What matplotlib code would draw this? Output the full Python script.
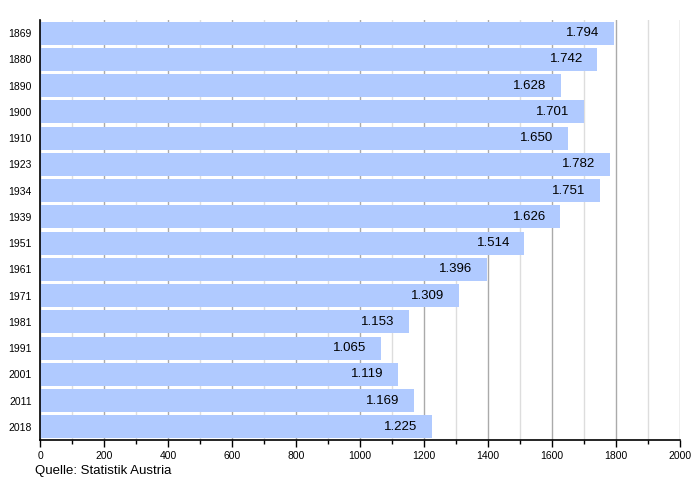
import matplotlib
matplotlib.use("Agg")
import matplotlib.pyplot as plt
from matplotlib.ticker import MultipleLocator

years = ["1869", "1880", "1890", "1900", "1910", "1923", "1934", "1939",
         "1951", "1961", "1971", "1981", "1991", "2001", "2011", "2018"]
population = [1794, 1742, 1628, 1701, 1650, 1782, 1751, 1626,
              1514, 1396, 1309, 1153, 1065, 1119, 1169, 1225]
value_labels = ["1.794", "1.742", "1.628", "1.701", "1.650", "1.782", "1.751", "1.626",
                "1.514", "1.396", "1.309", "1.153", "1.065", "1.119", "1.169", "1.225"]

plt.rcParams['font.family'] = ['Liberation Sans', 'DejaVu Sans']

fig = plt.figure(figsize=(7, 4.8), dpi=100)
ax = fig.add_axes([40 / 700, 1 - 440 / 480, 640 / 700, 420 / 480])

pos = list(range(len(years)))
ax.barh(pos, population, height=0.88, color="#b0caff", zorder=2)

# value labels sit inside the bar end
for y, v, lab in zip(pos, population, value_labels):
    ax.annotate(lab, (v, y), xytext=(-10.5, 0), textcoords="offset points",
                ha="right", va="center", fontsize=9.5, color="black", zorder=3)

ax.set_xlim(0, 2000)
ax.set_ylim(len(years) - 0.5, -0.5)
ax.set_yticks(pos)
ax.set_yticklabels(years, fontsize=7.5)
ax.tick_params(axis="y", length=0, pad=6)

ax.xaxis.set_major_locator(MultipleLocator(200))
ax.xaxis.set_minor_locator(MultipleLocator(100))
ax.tick_params(axis="x", which="major", length=5, width=1, labelsize=7.5, pad=3)
ax.tick_params(axis="x", which="minor", length=3, width=1)
ax.grid(axis="x", which="major", color="#aaaaaa", linewidth=1, zorder=0)
ax.grid(axis="x", which="minor", color="#dddddd", linewidth=1, zorder=0)
ax.set_axisbelow(True)

for side in ["top", "right"]:
    ax.spines[side].set_visible(False)
ax.spines["left"].set_linewidth(1.2)
ax.spines["bottom"].set_linewidth(1.2)

fig.text(35 / 700, 1 - 471 / 480, "Quelle: Statistik Austria", fontsize=9.5, va="center")

fig.savefig("out.png", dpi=100)
